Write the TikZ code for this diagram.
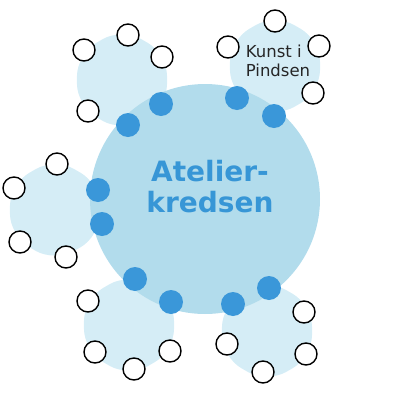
\documentclass[tikz,border=0pt]{standalone}
\usepackage{fontspec}
\setmainfont{DejaVu Sans}
\definecolor{bigc}{HTML}{B2DCEC}
\definecolor{hexc}{HTML}{D5EDF6}
\definecolor{dotc}{HTML}{3A97D9}
\definecolor{headc}{HTML}{3796D6}
\tikzset{
  hexa/.style={fill=hexc, rounded corners=22pt},
  dotb/.style={circle, fill=dotc, minimum size=24pt, inner sep=0pt},
  ring/.style={circle, draw=black, line width=1.4pt, fill=white, minimum size=22pt, inner sep=0pt},
}
\newcommand{\myhex}[2]{%
  \fill[hexa] (#1,#2) ++(90:52) -- ++(210:52) -- ++(270:52) -- ++(330:52) -- ++(30:52) -- ++(90:52) -- cycle;}
\begin{document}
\begin{tikzpicture}[x=1pt,y=-1pt]
\useasboundingbox (0,0) rectangle (400,400);
% hexagons
\myhex{122}{80}
\myhex{275}{66}
\myhex{55}{210}
\myhex{129}{325}
\myhex{267}{331}
% big circle
\node[circle, fill=bigc, minimum size=230pt, inner sep=0pt] (big) at (205,199) {};
% heading
\node[text=headc, font=\fontsize{28}{31}\selectfont\bfseries, align=center] (head) at (210,187) {Atelier-\\kredsen};
\node[text=black!85, font=\fontsize{16.5}{19}\selectfont, align=left] (kip) at (278,61) {Kunst i\\Pindsen};
% dots
\node[dotb] (d1) at (161,104) {};
\node[dotb] (d2) at (128,125) {};
\node[dotb] (d3) at (237,98) {};
\node[dotb] (d4) at (274,116) {};
\node[dotb] (d5) at (98,190) {};
\node[dotb] (d6) at (102,224) {};
\node[dotb] (d7) at (135,279) {};
\node[dotb] (d8) at (171,302) {};
\node[dotb] (d9) at (233,304) {};
\node[dotb] (d10) at (269,288) {};
% rings
\node[ring] (r1) at (128,35) {};
\node[ring] (r2) at (84,50) {};
\node[ring] (r3) at (162,57) {};
\node[ring] (r4) at (88,111) {};
\node[ring] (r5) at (57,164) {};
\node[ring] (r6) at (14,188) {};
\node[ring] (r7) at (20,242) {};
\node[ring] (r8) at (66,257) {};
\node[ring] (r9) at (275,21) {};
\node[ring] (r10) at (228,47) {};
\node[ring] (r11) at (319,46) {};
\node[ring] (r12) at (313,93) {};
\node[ring] (r13) at (88,301) {};
\node[ring] (r14) at (95,352) {};
\node[ring] (r15) at (134,369) {};
\node[ring] (r16) at (170,351) {};
\node[ring] (r17) at (304,312) {};
\node[ring] (r18) at (227,344) {};
\node[ring] (r19) at (263,372) {};
\node[ring] (r20) at (306,354) {};
\end{tikzpicture}
\end{document}
